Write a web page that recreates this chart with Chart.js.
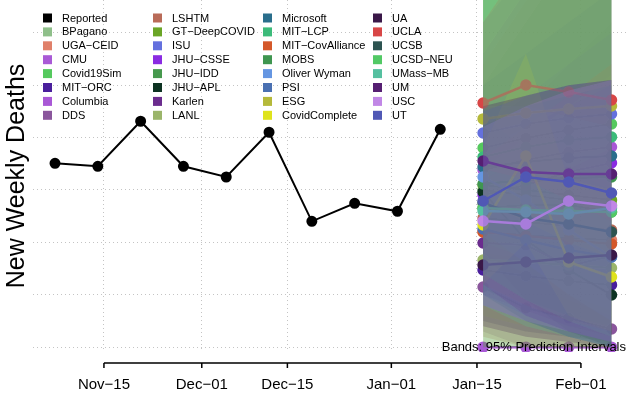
<!DOCTYPE html>
<html>
<head>
<meta charset="utf-8">
<script src="https://cdn.jsdelivr.net/npm/chart.js@4.4.1/dist/chart.umd.min.js"></script>
<style>
  html, body { margin: 0; padding: 0; background: #fff; }
  #wrap { position: relative; width: 628px; height: 397px; }
</style>
</head>
<body>
<div id="wrap"><canvas id="chart" width="628" height="397"></canvas></div>
<script>
// Weekly deaths: reported history + ensemble of model forecasts with 95% bands
// x values are days counted from 2020-11-01

const xTickDays = [14, 30, 44, 61, 75, 92];
const xTickLabels = ['Nov\u221215', 'Dec\u221201', 'Dec\u221215', 'Jan\u221201', 'Jan\u221215', 'Feb\u221201'];
const yGridValues = [0, 500, 1000, 1500, 2000, 2500, 3000];

const reportedDays = [6, 13, 20, 27, 34, 41, 48, 55, 62, 69];
const reportedDeaths = [1755, 1726, 2156, 1726, 1624, 2051, 1201, 1373, 1297, 2079];

const forecastDays = [76, 83, 90, 97];

const modelNames = [
    'BPagano', 'UGA\u2212CEID', 'CMU', 'Covid19Sim', 'MIT\u2212ORC', 'Columbia', 'DDS',
    'LSHTM', 'GT\u2212DeepCOVID', 'ISU', 'JHU\u2212CSSE', 'JHU\u2212IDD', 'JHU\u2212APL', 'Karlen', 'LANL',
    'Microsoft', 'MIT\u2212LCP', 'MIT\u2212CovAlliance', 'MOBS', 'Oliver Wyman', 'PSI', 'ESG', 'CovidComplete',
    'UA', 'UCLA', 'UCSB', 'UCSD\u2212NEU', 'UMass\u2212MB', 'UM', 'USC', 'UT'
];

const modelColors = [
    '#8fbf8a', '#e0806a', '#a95ad6', '#55c95e', '#4a1f9c', '#a958d6', '#8a569c',
    '#b96b58', '#6aa526', '#6470de', '#8a2be2', '#47994e', '#0d3322', '#6b2c8e', '#9bb56a',
    '#2a6e8c', '#3cbb7a', '#d4582a', '#3f9650', '#6596e2', '#4a70b2', '#b5b93a', '#dfe31c',
    '#3a1848', '#d84646', '#2d5451', '#52c965', '#55c0a0', '#561f72', '#c187e6', '#5058b5'
];

// point forecasts, one row per model (same order as modelNames)
const modelMedian = [
    [1500, 1452, 1405, 1357],
    [1099, 1071, 1042, 1023],
    [0, 0, 0, 0],
    [1901, 1996, 2073, 2130],
    [737, 679, 632, 594],
    [1691, 1786, 1863, 1910],
    [574, 374, 279, 174],
    [1233, 1195, 1157, 1118],
    [1548, 1500, 1452, 1405],
    [2044, 2130, 2187, 2225],
    [1452, 1548, 1672, 1758],
    [1328, 1357, 1357, 1290],
    [1481, 1023, 737, 498],
    [994, 975, 775, 870],
    [832, 813, 784, 756],
    [1719, 1767, 1805, 1824],
    [1815, 1910, 1977, 2006],
    [1099, 1061, 1023, 985],
    [1557, 1595, 1615, 1624],
    [1624, 1405, 1118, 861],
    [1128, 1023, 927, 861],
    [2178, 2235, 2273, 2302],
    [1166, 1824, 813, 670],
    [784, 813, 851, 880],
    [2330, 2502, 2435, 2359],
    [1376, 1233, 1176, 1099],
    [1328, 1309, 1300, 1290],
    [1300, 1290, 1271, 1328],
    [1777, 1672, 1653, 1653],
    [1204, 1176, 1395, 1347],
    [1395, 1624, 1576, 1471]
];

// 95% prediction interval, lower bound
const modelLower = [
    [800, 600, 450, 300],
    [500, 350, 200, 100],
    [0, 0, 0, 0],
    [1100, 900, 700, 500],
    [250, 150, 100, 50],
    [900, 700, 500, 350],
    [150, 0, 0, 0],
    [100, 0, 0, 0],
    [0, 0, 0, 0],
    [1300, 1100, 950, 800],
    [900, 850, 800, 750],
    [0, 0, 0, 0],
    [900, 450, 150, 0],
    [500, 350, 200, 150],
    [300, 200, 100, 50],
    [1100, 950, 850, 750],
    [1000, 850, 700, 550],
    [600, 400, 250, 150],
    [700, 450, 300, 200],
    [1100, 800, 500, 250],
    [500, 300, 150, 50],
    [1400, 1200, 1000, 850],
    [600, 1000, 300, 150],
    [200, 100, 50, 0],
    [1700, 1600, 1400, 1200],
    [500, 250, 100, 0],
    [700, 450, 250, 100],
    [400, 200, 100, 0],
    [600, 300, 150, 50],
    [400, 250, 150, 50],
    [400, 250, 100, 0]
];

// 95% prediction interval, upper bound
const modelUpper = [
    [2500, 3100, 3700, 4300],
    [1900, 2300, 2700, 3100],
    [0, 0, 0, 0],
    [3800, 4500, 5200, 5900],
    [1500, 1700, 1900, 2100],
    [2800, 3400, 4000, 4600],
    [1300, 1300, 1200, 1100],
    [2700, 3300, 3900, 4500],
    [3600, 4300, 5000, 5700],
    [3100, 3600, 4100, 4600],
    [2100, 2400, 2700, 3000],
    [3600, 4400, 5000, 5500],
    [2200, 1900, 1700, 1500],
    [1600, 1800, 1700, 1900],
    [1700, 2000, 2300, 2600],
    [2500, 2800, 3100, 3400],
    [3400, 4100, 4700, 5300],
    [1800, 2100, 2400, 2700],
    [3600, 4300, 5000, 5600],
    [2300, 2300, 2200, 2100],
    [1900, 2100, 2300, 2500],
    [3400, 4000, 4600, 5200],
    [1900, 2800, 1600, 1500],
    [2300, 2400, 2500, 2550],
    [3100, 3700, 4000, 4300],
    [2100, 2300, 2400, 2500],
    [3500, 4200, 4900, 5600],
    [3400, 4000, 4600, 5200],
    [2300, 2400, 2500, 2550],
    [2100, 2300, 2450, 2550],
    [2250, 2400, 2500, 2550]
];

const xMin = 2.4;
const xMax = 99.7;
const yMin = -46;
const yMax = 3313;

const FONT = "'Liberation Sans', Arial, Helvetica, sans-serif";
const BAND_ALPHA = 0.22;

function withAlpha(hex, a) {
    const r = parseInt(hex.slice(1, 3), 16);
    const g = parseInt(hex.slice(3, 5), 16);
    const b = parseInt(hex.slice(5, 7), 16);
    return `rgba(${r},${g},${b},${a})`;
}

function toPoints(days, values) {
    return days.map((d, i) => ({ x: d, y: values[i] }));
}

const datasets = [];
const nModels = modelNames.length;

datasets.push({
    label: 'Reported',
    data: toPoints(reportedDays, reportedDeaths),
    borderColor: '#000',
    backgroundColor: '#000',
    borderWidth: 2,
    pointRadius: 4.5,
    order: 0
});

// each model: band first, then its line; later models sit on top of earlier ones
// (Chart.js draws higher `order` first)
modelNames.forEach((name, m) => {
    const base = 2 * (nModels - m);
    const loIndex = datasets.length;
    datasets.push({
        label: name + ' lower',
        data: toPoints(forecastDays, modelLower[m]),
        borderWidth: 0,
        pointRadius: 0,
        fill: false,
        order: base + 1
    });
    datasets.push({
        label: name + ' upper',
        data: toPoints(forecastDays, modelUpper[m]),
        borderWidth: 0,
        pointRadius: 0,
        fill: loIndex,
        backgroundColor: withAlpha(modelColors[m], BAND_ALPHA),
        order: base + 1
    });
    datasets.push({
        label: name,
        data: toPoints(forecastDays, modelMedian[m]),
        borderColor: modelColors[m],
        backgroundColor: modelColors[m],
        borderWidth: 2.5,
        pointRadius: 4.5,
        order: base
    });
});

/**
 * Legend in four columns inside the plot, plus the band note and the x axis line
 */
const annotations = {
    id: 'annotations',
    afterDraw(chart) {
        const ctx = chart.ctx;
        const area = chart.chartArea;
        const xs = chart.scales.x;

        // x axis line spanning first to last tick, with tick marks
        const axisY = area.bottom + 11;
        const x0 = xs.getPixelForValue(xTickDays[0]);
        const x1 = xs.getPixelForValue(xTickDays[xTickDays.length - 1]);
        ctx.save();
        ctx.strokeStyle = '#000';
        ctx.lineWidth = 1.5;
        ctx.beginPath();
        ctx.moveTo(x0, axisY);
        ctx.lineTo(x1, axisY);
        xTickDays.forEach(d => {
            const px = xs.getPixelForValue(d);
            ctx.moveTo(px, axisY);
            ctx.lineTo(px, axisY + 5);
        });
        ctx.stroke();

        // legend
        const names = ['Reported', ...modelNames];
        const colors = ['#000', ...modelColors];
        const rows = 8;
        ctx.font = `11px ${FONT}`;
        ctx.textBaseline = 'middle';
        ctx.textAlign = 'left';
        names.forEach((n, i) => {
            const col = Math.floor(i / rows);
            const row = i % rows;
            const lx = 43 + col * 110;
            const ly = 18 + row * 13.9;
            ctx.fillStyle = colors[i];
            ctx.fillRect(lx, ly - 4.5, 9, 9);
            ctx.fillStyle = '#000';
            ctx.fillText(n, lx + 19, ly + 0.5);
        });

        // band note
        ctx.font = `13px ${FONT}`;
        ctx.textAlign = 'right';
        ctx.textBaseline = 'alphabetic';
        ctx.fillStyle = '#000';
        ctx.fillText('Bands: 95% Prediction Intervals', 626, 351);
        ctx.restore();
    }
};

new Chart(document.getElementById('chart'), {
    type: 'line',
    data: { datasets },
    options: {
        responsive: false,
        animation: false,
        events: [],
        layout: { padding: 0, autoPadding: false },
        elements: { line: { tension: 0 } },
        plugins: {
            legend: { display: false },
            tooltip: { enabled: false },
            title: { display: false }
        },
        scales: {
            x: {
                type: 'linear',
                min: xMin,
                max: xMax,
                afterBuildTicks: (s) => { s.ticks = xTickDays.map(v => ({ value: v })); },
                afterFit: (s) => { s.height = 45; },
                ticks: {
                    callback: (v, i) => xTickLabels[i],
                    font: { size: 15, family: FONT },
                    color: '#000',
                    padding: 0,
                    maxRotation: 0,
                    autoSkip: false
                },
                grid: { color: '#c4c4c4', lineWidth: 1, drawTicks: true, tickLength: 24, tickColor: 'rgba(0,0,0,0)' },
                border: { display: false, dash: [1, 3] }
            },
            y: {
                min: yMin,
                max: yMax,
                afterBuildTicks: (s) => { s.ticks = yGridValues.map(v => ({ value: v })); },
                afterFit: (s) => { s.width = 33; },
                ticks: { display: false },
                grid: { color: '#c4c4c4', lineWidth: 1, drawTicks: false },
                border: { display: false, dash: [1, 3] },
                title: {
                    display: true,
                    text: 'New Weekly Deaths',
                    font: { size: 25, family: FONT },
                    color: '#000',
                    padding: { top: 2, bottom: 0 }
                }
            }
        }
    },
    plugins: [annotations]
});
</script>
</body>
</html>
